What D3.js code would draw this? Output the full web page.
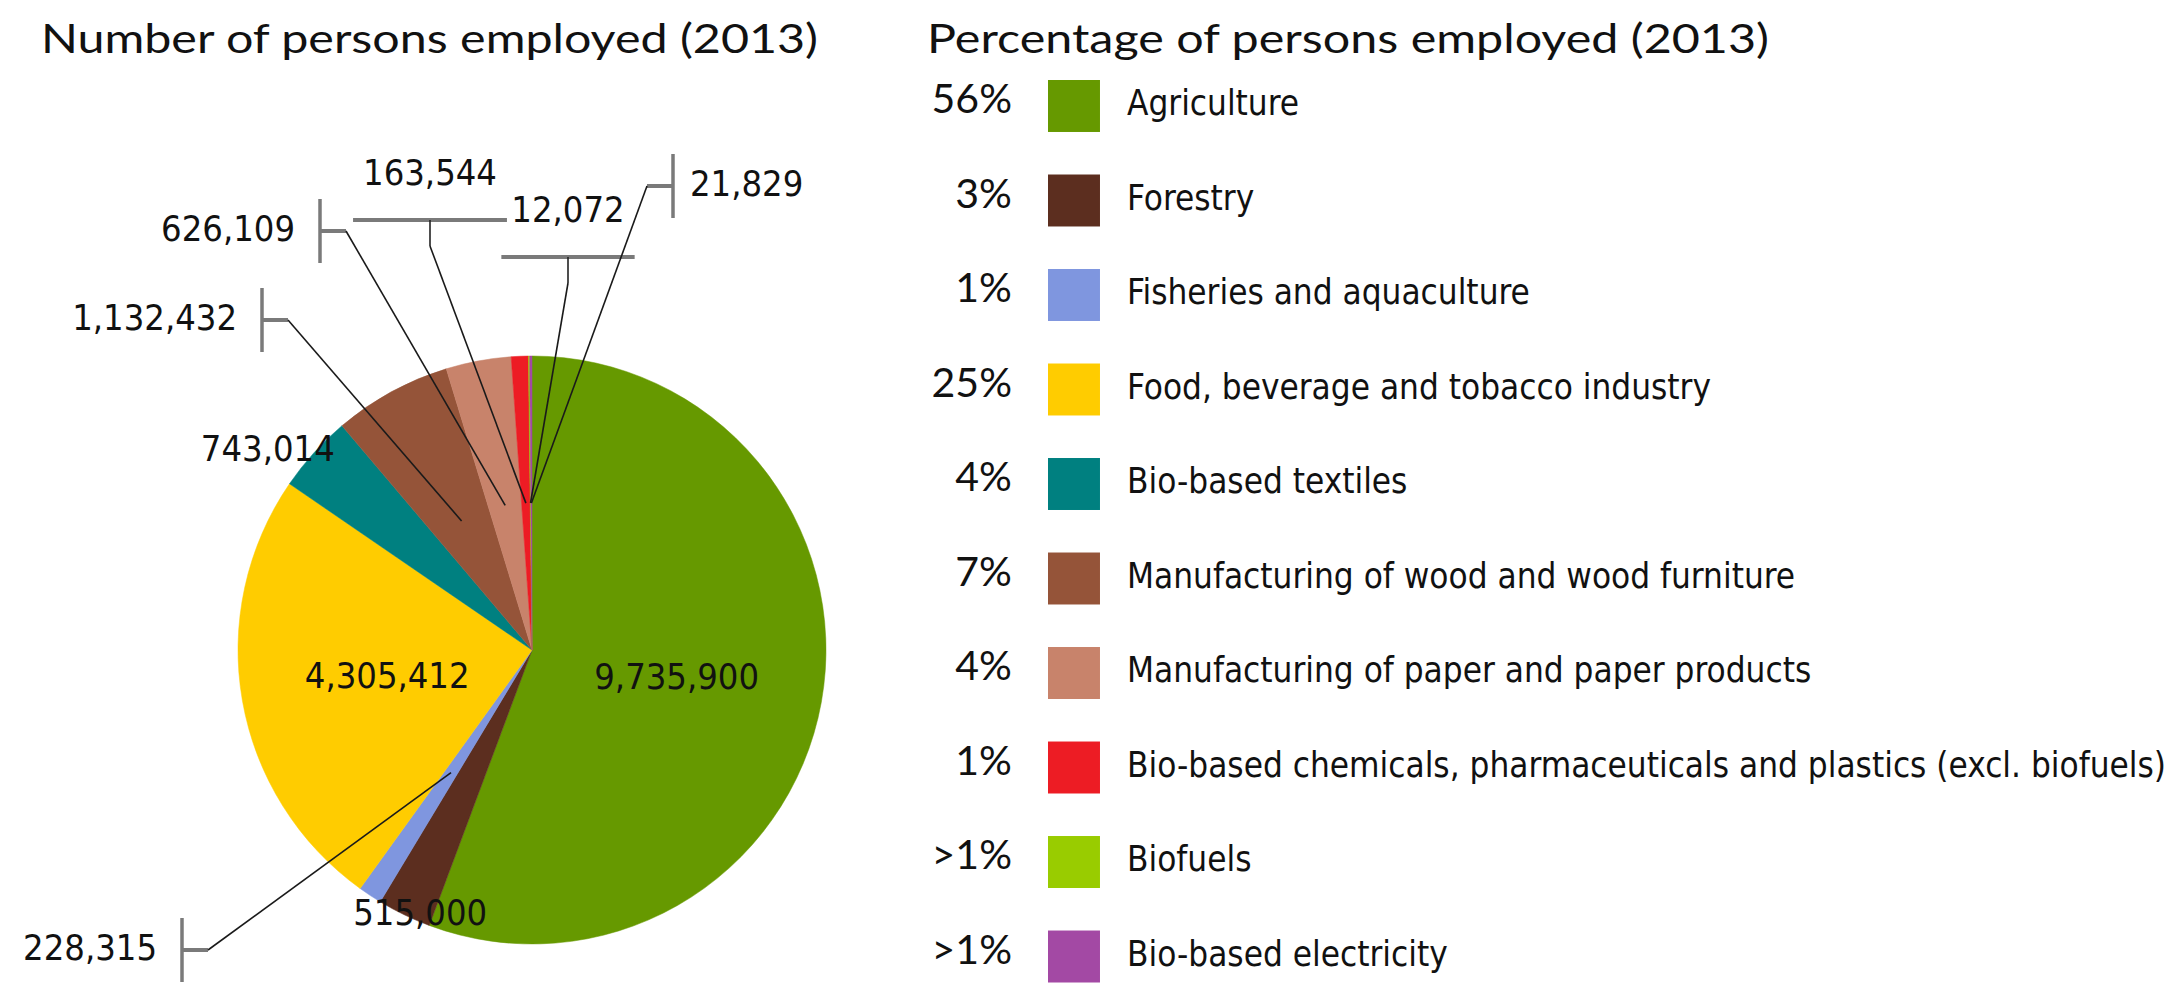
<!DOCTYPE html>
<html><head><meta charset="utf-8">
<script src="https://cdn.jsdelivr.net/npm/d3@7"></script>
<style>body{margin:0;background:#fff;} svg{display:block}</style>
</head><body>
<svg id="chart" width="2167" height="985"></svg>
<script>
// ---------- data ----------
const categories = [
  "Agriculture",
  "Forestry",
  "Fisheries and aquaculture",
  "Food, beverage and tobacco industry",
  "Bio-based textiles",
  "Manufacturing of wood and wood furniture",
  "Manufacturing of paper and paper products",
  "Bio-based chemicals, pharmaceuticals and plastics (excl. biofuels)",
  "Biofuels",
  "Bio-based electricity"
];
const employed = [9735900, 515000, 228315, 4305412, 743014, 1132432, 626109, 163544, 12072, 21829];
const percentLabels = ["56%", "3%", "1%", "25%", "4%", "7%", "4%", "1%", ">1%", ">1%"];
const colors = ["#669900", "#5c2e1f", "#7f96df", "#ffcc00", "#008080", "#955439", "#c8836b", "#ed1c24", "#99cc00", "#a349a4"];
const titles = ["Number of persons employed (2013)", "Percentage of persons employed (2013)"];

// ---------- layout ----------
const svg = d3.select("#chart");
const cx = 532, cy = 650, R = 294;
const labelFont = "'DejaVu Sans Condensed','DejaVu Sans',sans-serif";
const titleFont = "Lato,'Open Sans',sans-serif";

// label placement rules per slice index
const placement = {
  0: {type: "inside"},
  1: {type: "edge", anchor: "middle", dx: 16, dy: -3},
  2: {type: "callout", side: "left", bx: 182, by: 950},
  3: {type: "inside"},
  4: {type: "edge", anchor: "end", dx: 21, dy: -5},
  5: {type: "callout", side: "left", bx: 262, by: 320},
  6: {type: "callout", side: "left", bx: 320, by: 231},
  7: {type: "callout", side: "top", bx: 430, by: 220},
  8: {type: "callout", side: "top", bx: 568, by: 257},
  9: {type: "callout", side: "right", bx: 673, by: 186}
};

const fmt = d3.format(",");
const pie = d3.pie().sort(null).value(d => d);
const arcs = pie(employed);
const arc = d3.arc().innerRadius(0).outerRadius(R);
const edgeArc = d3.arc().innerRadius(R).outerRadius(R);

// titles
svg.append("text").attr("x", 41).attr("y", 53)
  .attr("font-family", titleFont).attr("font-size", 40).attr("fill", "#111")
  .attr("textLength", 777).attr("lengthAdjust", "spacingAndGlyphs")
  .text(titles[0]);
svg.append("text").attr("x", 927).attr("y", 53)
  .attr("font-family", titleFont).attr("font-size", 40).attr("fill", "#111")
  .attr("textLength", 842).attr("lengthAdjust", "spacingAndGlyphs")
  .text(titles[1]);

// pie
const g = svg.append("g").attr("transform", `translate(${cx},${cy})`);
g.selectAll("path.slice").data(arcs).enter().append("path")
  .attr("class", "slice")
  .attr("d", arc)
  .attr("fill", (d, i) => colors[i])
  .attr("stroke", (d, i) => colors[i])
  .attr("stroke-width", 0.5);

const capHalf = 13; // half cap height for vertical centering

// labels
const lab = svg.append("g");
arcs.forEach((d, i) => {
  const p = placement[i];
  const txt = fmt(employed[i]);
  if (p.type === "inside") {
    const [x, y] = arc.centroid(d);
    lab.append("text").attr("x", cx + x).attr("y", cy + y + capHalf)
      .attr("text-anchor", "middle").attr("font-family", labelFont)
      .attr("font-size", 36).attr("fill", "#111").text(txt);
  } else if (p.type === "edge") {
    const [x, y] = edgeArc.centroid(d);
    lab.append("text").attr("x", cx + x + p.dx).attr("y", cy + y + p.dy + capHalf)
      .attr("text-anchor", p.anchor).attr("font-family", labelFont)
      .attr("font-size", 36).attr("fill", "#111").text(txt);
  } else {
    const [ex, ey] = arc.centroid(d);
    const tx = cx + ex, ty = cy + ey;
    const gray = "#7a7a7a";
    let sx, sy;
    if (p.side === "left" || p.side === "right") {
      const dir = p.side === "left" ? 1 : -1;
      lab.append("line").attr("x1", p.bx).attr("x2", p.bx)
        .attr("y1", p.by - 32).attr("y2", p.by + 32)
        .attr("stroke", gray).attr("stroke-width", 3.5);
      sx = p.bx + dir * 26; sy = p.by;
      lab.append("line").attr("x1", p.bx).attr("x2", sx)
        .attr("y1", sy).attr("y2", sy)
        .attr("stroke", gray).attr("stroke-width", 4);
      lab.append("text")
        .attr("x", p.side === "left" ? p.bx - 25 : p.bx + 17)
        .attr("y", p.by - 3 + capHalf)
        .attr("text-anchor", p.side === "left" ? "end" : "start")
        .attr("font-family", labelFont).attr("font-size", 36).attr("fill", "#111").text(txt);
    } else {
      const t = lab.append("text").attr("x", p.bx).attr("y", p.by - 35)
        .attr("text-anchor", "middle").attr("font-family", labelFont)
        .attr("font-size", 36).attr("fill", "#111").text(txt);
      const w = t.node().getComputedTextLength() + 20;
      lab.append("line").attr("x1", p.bx - w / 2).attr("x2", p.bx + w / 2)
        .attr("y1", p.by).attr("y2", p.by)
        .attr("stroke", gray).attr("stroke-width", 4);
      sx = p.bx; sy = p.by + 26;
      lab.append("line").attr("x1", p.bx).attr("x2", sx)
        .attr("y1", p.by).attr("y2", sy)
        .attr("stroke", "#222").attr("stroke-width", 1.6);
    }
    lab.append("line").attr("x1", sx).attr("y1", sy).attr("x2", tx).attr("y2", ty)
      .attr("stroke", "#1a1a1a").attr("stroke-width", 1.6);
  }
});

// legend
const rowScale = d3.scaleBand().domain(d3.range(categories.length))
  .range([80, 982.5]).paddingInner(0.45).paddingOuter(0);
const leg = svg.append("g");
const rows = leg.selectAll("g.row").data(categories).enter().append("g")
  .attr("class", "row")
  .attr("transform", (d, i) => `translate(0,${rowScale(i)})`);
rows.append("rect").attr("x", 1048).attr("y", 0)
  .attr("width", rowScale.bandwidth()).attr("height", rowScale.bandwidth())
  .attr("fill", (d, i) => colors[i]);
rows.append("text").attr("x", 1012).attr("y", 33)
  .attr("text-anchor", "end").attr("font-family", titleFont)
  .attr("font-size", 41).attr("fill", "#111")
  .text((d, i) => percentLabels[i]);
rows.append("text").attr("x", 1127).attr("y", 35)
  .attr("font-family", labelFont).attr("font-size", 34.8).attr("fill", "#111")
  .text(d => d);
</script>
</body></html>
